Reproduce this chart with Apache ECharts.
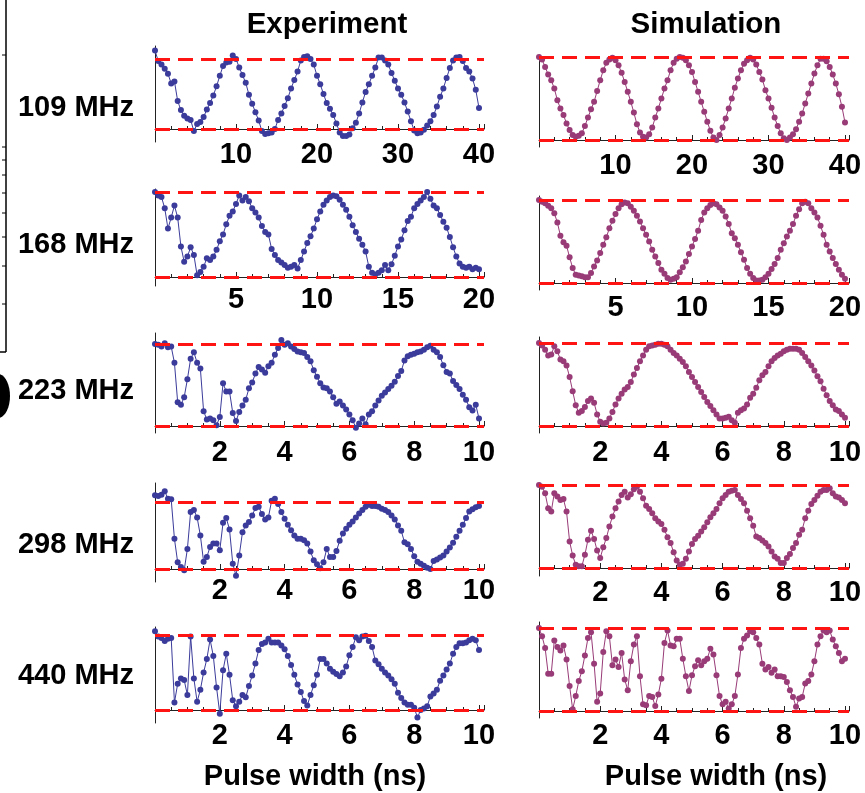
<!DOCTYPE html>
<html>
<head>
<meta charset="utf-8">
<script src="https://cdn.jsdelivr.net/npm/echarts@6/dist/echarts.min.js"></script>
<style>
  html, body { margin: 0; padding: 0; background: #ffffff; }
  #chart { width: 865px; height: 793px; }
</style>
</head>
<body>
<div id="chart"></div>
<script>
// Rabi oscillations: excited-state population vs. pulse width (ns)
// Measured ("Experiment") and simulated ("Simulation") traces for five drive frequencies.

const frequencies = ['109 MHz', '168 MHz', '223 MHz', '298 MHz', '440 MHz'];
const columnTitles = ['Experiment', 'Simulation'];
const xAxisName = 'Pulse width (ns)';

// sample spacing (ns) of each row
const rowSteps = [0.4, 0.2, 0.1, 0.1, 0.1];
// full pulse-width span and labelled tick interval of each row
const rowSpans = [40, 20, 10, 10, 10];
const rowTickIntervals = [10, 5, 2, 2, 2];
const rowMinorSplits = [5, 5, 4, 4, 4];

// ---- 109 MHz ----
const exp109 = [1.12,0.97,0.92,0.86,0.79,0.65,0.68,0.40,0.27,0.19,0.15,0.13,-0.03,0.07,0.10,0.17,0.28,0.37,0.48,0.61,
  0.76,0.90,0.95,0.96,1.05,1.00,0.88,0.77,0.66,0.49,0.36,0.24,0.12,-0.03,-0.07,-0.06,-0.05,0.00,0.13,0.22,
  0.33,0.44,0.58,0.70,0.82,0.98,1.03,1.04,1.00,0.92,0.76,0.64,0.50,0.37,0.29,0.20,0.08,-0.05,-0.10,-0.10,
  -0.08,0.01,0.09,0.22,0.38,0.53,0.64,0.76,0.88,1.02,1.02,0.98,0.92,0.80,0.69,0.58,0.49,0.38,0.25,0.11,
  -0.02,-0.06,-0.05,-0.01,0.05,0.11,0.20,0.32,0.46,0.58,0.73,0.87,0.98,1.02,1.03,0.97,0.87,0.82,0.72,0.56,0.30];
const sim109 = [1.00,0.97,0.88,0.79,0.72,0.62,0.48,0.38,0.30,0.20,0.12,0.06,0.04,0.05,0.08,0.17,0.27,0.37,0.46,0.59,
  0.72,0.84,0.93,0.97,0.99,0.96,0.90,0.81,0.70,0.58,0.46,0.33,0.19,0.09,0.04,0.03,0.07,0.15,0.27,0.38,
  0.50,0.62,0.72,0.84,0.93,0.98,1.00,0.99,0.96,0.90,0.82,0.70,0.58,0.46,0.34,0.22,0.11,0.03,0.00,0.06,
  0.15,0.26,0.38,0.50,0.63,0.74,0.84,0.92,0.96,0.99,0.97,0.91,0.82,0.73,0.60,0.50,0.39,0.27,0.17,0.08,
  0.02,0.00,0.03,0.07,0.13,0.22,0.32,0.44,0.56,0.68,0.80,0.90,0.98,0.98,0.95,0.88,0.79,0.68,0.55,0.40,0.21];

// ---- 168 MHz ----
const exp168 = [1.00,0.96,0.94,0.81,0.57,0.70,0.84,0.70,0.36,0.18,0.24,0.35,0.26,0.02,0.06,0.12,0.22,0.20,0.24,0.32,
  0.42,0.50,0.62,0.72,0.77,0.86,0.96,0.90,0.94,0.89,0.81,0.76,0.70,0.60,0.53,0.50,0.33,0.26,0.20,0.17,
  0.14,0.11,0.12,0.14,0.10,0.20,0.30,0.40,0.48,0.57,0.68,0.77,0.85,0.90,0.94,0.96,0.95,0.91,0.85,0.79,
  0.71,0.61,0.53,0.45,0.38,0.30,0.12,0.05,0.03,0.05,0.08,0.14,0.08,0.15,0.25,0.36,0.44,0.55,0.66,0.71,
  0.81,0.86,0.90,0.94,1.00,0.92,0.84,0.81,0.73,0.65,0.58,0.47,0.35,0.24,0.16,0.12,0.11,0.12,0.09,0.11,0.09];
const sim168 = [1.00,0.98,0.96,0.93,0.90,0.84,0.73,0.57,0.49,0.45,0.31,0.18,0.10,0.09,0.08,0.07,0.07,0.12,0.20,0.27,
  0.36,0.46,0.55,0.66,0.75,0.83,0.90,0.95,0.97,0.96,0.92,0.87,0.81,0.74,0.66,0.58,0.50,0.40,0.32,0.24,
  0.16,0.11,0.06,0.04,0.05,0.07,0.13,0.19,0.26,0.35,0.44,0.53,0.63,0.76,0.85,0.90,0.94,0.96,0.95,0.91,
  0.87,0.80,0.71,0.60,0.54,0.46,0.37,0.28,0.18,0.11,0.06,0.03,0.03,0.04,0.07,0.11,0.17,0.23,0.30,0.40,
  0.48,0.56,0.63,0.71,0.81,0.89,0.96,0.98,0.96,0.90,0.85,0.79,0.69,0.58,0.46,0.38,0.30,0.23,0.16,0.10,0.05];

// ---- 223 MHz ----
const exp223 = [1.00,0.99,0.97,1.01,0.96,0.97,0.77,0.29,0.26,0.35,0.57,0.82,0.90,0.77,0.70,0.18,0.08,0.09,0.07,0.01,
  0.11,0.52,0.42,0.42,0.16,0.06,0.17,0.25,0.32,0.46,0.53,0.64,0.72,0.69,0.65,0.73,0.77,0.87,0.95,1.05,
  0.99,1.01,0.97,0.94,0.91,0.90,0.89,0.84,0.79,0.68,0.60,0.52,0.47,0.46,0.42,0.35,0.27,0.30,0.25,0.20,
  0.14,0.07,-0.02,0.03,0.09,0.02,0.14,0.18,0.25,0.31,0.37,0.41,0.45,0.49,0.54,0.61,0.67,0.80,0.85,0.87,
  0.88,0.90,0.91,0.93,0.96,0.98,0.93,0.90,0.84,0.74,0.66,0.64,0.55,0.50,0.45,0.38,0.32,0.23,0.19,0.26,0.09];
const sim223 = [1.00,0.97,0.92,0.85,0.86,0.96,0.90,0.80,0.78,0.73,0.59,0.42,0.25,0.16,0.18,0.23,0.30,0.33,0.28,0.14,
  0.05,0.03,0.04,0.09,0.17,0.26,0.33,0.39,0.44,0.47,0.53,0.62,0.70,0.78,0.85,0.92,0.96,0.97,0.98,0.99,
  0.99,0.98,0.96,0.92,0.88,0.85,0.81,0.77,0.72,0.65,0.59,0.53,0.47,0.41,0.35,0.29,0.24,0.19,0.14,0.09,
  0.09,0.10,0.11,0.07,0.04,0.16,0.19,0.21,0.26,0.34,0.39,0.46,0.55,0.61,0.65,0.72,0.78,0.82,0.85,0.87,
  0.90,0.92,0.93,0.93,0.93,0.92,0.88,0.83,0.78,0.73,0.67,0.60,0.54,0.45,0.37,0.30,0.25,0.20,0.18,0.14,0.10];

// ---- 298 MHz ----
const exp298 = [1.10,1.09,1.11,1.16,1.05,1.04,0.45,0.10,0.03,-0.02,0.30,0.85,0.88,0.77,0.50,0.11,0.18,0.33,0.38,0.38,
  0.28,0.69,0.76,0.59,0.08,-0.10,0.20,0.55,0.65,0.70,0.80,0.91,0.93,0.82,0.74,0.77,1.02,1.05,0.97,0.85,
  0.75,0.66,0.58,0.50,0.45,0.45,0.43,0.38,0.26,0.13,0.07,0.01,0.10,0.30,0.18,0.18,0.27,0.42,0.53,0.60,
  0.66,0.71,0.77,0.83,0.88,0.93,0.96,0.94,0.94,0.93,0.90,0.88,0.85,0.80,0.74,0.65,0.57,0.40,0.37,0.30,
  0.19,0.11,0.08,0.05,0.02,0.00,0.12,0.14,0.17,0.20,0.26,0.32,0.39,0.48,0.57,0.66,0.76,0.86,0.89,0.92,0.94];
const sim298 = [1.00,0.98,0.90,0.72,0.68,0.90,0.86,0.82,0.83,0.68,0.32,0.15,0.04,0.02,0.02,0.16,0.34,0.45,0.35,0.21,
  0.12,0.25,0.36,0.50,0.62,0.72,0.80,0.88,0.92,0.85,0.89,0.95,0.98,0.92,0.84,0.75,0.71,0.66,0.60,0.56,
  0.53,0.46,0.37,0.30,0.19,0.09,0.04,0.05,0.11,0.20,0.29,0.35,0.39,0.44,0.49,0.55,0.61,0.66,0.71,0.78,
  0.84,0.88,0.92,0.93,0.94,0.88,0.83,0.78,0.69,0.60,0.51,0.38,0.36,0.33,0.30,0.26,0.20,0.14,0.11,0.06,
  0.06,0.12,0.17,0.24,0.30,0.40,0.46,0.60,0.69,0.77,0.82,0.87,0.92,0.94,0.94,0.96,0.90,0.86,0.85,0.82,0.78];

// ---- 440 MHz ----
const exp440 = [1.05,0.98,0.96,0.92,0.95,0.96,0.10,0.35,0.42,0.40,0.20,0.98,0.42,0.11,0.27,0.50,0.68,0.94,0.72,0.30,
  -0.05,0.53,0.75,0.47,0.13,0.05,0.11,0.20,0.17,0.32,0.46,0.62,0.80,0.88,0.90,0.95,0.90,0.90,0.90,0.86,
  0.81,0.72,0.60,0.47,0.34,0.24,0.12,0.06,0.20,0.33,0.47,0.68,0.68,0.62,0.55,0.51,0.48,0.45,0.50,0.58,
  0.73,0.84,0.97,0.93,0.98,0.99,0.92,0.84,0.66,0.61,0.55,0.50,0.46,0.41,0.35,0.23,0.16,0.10,0.07,0.07,
  0.03,-0.10,0.00,0.02,0.05,0.18,0.22,0.27,0.39,0.46,0.54,0.62,0.75,0.84,0.89,0.89,0.90,0.93,0.95,0.93,0.80];
const sim440 = [1.00,0.90,0.76,0.45,0.45,0.85,0.77,0.73,0.79,0.62,0.30,0.02,0.18,0.36,0.48,0.67,0.88,0.95,0.57,0.11,
  0.21,0.71,0.96,0.90,0.55,0.62,0.53,0.70,0.38,0.25,0.60,0.80,0.90,0.42,0.08,0.07,0.18,0.17,0.06,0.20,
  0.39,0.82,0.97,0.79,0.78,0.87,0.87,0.63,0.42,0.24,0.43,0.54,0.61,0.55,0.60,0.63,0.75,0.68,0.43,0.18,
  0.08,0.11,0.03,0.08,0.18,0.44,0.76,0.87,0.91,0.96,0.95,0.88,0.80,0.57,0.50,0.53,0.46,0.50,0.42,0.42,
  0.41,0.35,0.25,0.17,0.05,0.15,0.17,0.33,0.36,0.44,0.60,0.80,0.90,0.97,0.95,0.97,0.86,0.78,0.70,0.60,0.63];

const experimentRows = [exp109, exp168, exp223, exp298, exp440];
const simulationRows = [sim109, sim168, sim223, sim298, sim440];

// ---------- layout (pixels) ----------
const COLORS = { experiment: '#3b3b9b', simulation: '#983b77', guide: '#ff1414', axis: '#222222' };
const FONT = '"Liberation Sans", Arial, sans-serif';

// column geometry: pixel of x = 0, pixel of the span end, pixel where the axis line ends
const columns = [
  { x0: 155, xEnd: 479, axisEnd: 484 },
  { x0: 539, xEnd: 845, axisEnd: 849 }
];
// per panel vertical geometry: pixel of y=1, y=0, axis top, axis bottom, tick-label centre
const rowsGeom = [
  [{ y1: 59,  y0: 129, top: 46,  bottom: 142, label: 153 }, { y1: 57,  y0: 140, top: 55,  bottom: 147, label: 164 }],
  [{ y1: 192, y0: 277, top: 189, bottom: 286, label: 298 }, { y1: 200, y0: 283, top: 196, bottom: 290, label: 306 }],
  [{ y1: 344, y0: 426, top: 333, bottom: 433, label: 451 }, { y1: 343, y0: 426, top: 337, bottom: 433, label: 451 }],
  [{ y1: 502, y0: 569, top: 483, bottom: 582, label: 589 }, { y1: 485, y0: 568, top: 483, bottom: 576, label: 591 }],
  [{ y1: 635, y0: 710, top: 627, bottom: 723, label: 734 }, { y1: 628, y0: 711, top: 622, bottom: 718, label: 734 }]
];
const rowLabelY = [108, 245, 391, 545, 676];

const grids = [], xAxes = [], yAxes = [], series = [];

function addPanel(row, col, values, color) {
  const c = columns[col];
  const g = rowsGeom[row][col];
  const span = rowSpans[row];
  const ppu = (c.xEnd - c.x0) / span;
  const xMax = (c.axisEnd - c.x0) / ppu;
  const unit = g.y0 - g.y1;
  const yMax = 1 + (g.y1 - g.top) / unit;
  const yMin = -(g.bottom - g.y0) / unit;
  const idx = grids.length;
  const interval = rowTickIntervals[row];

  grids.push({ left: c.x0, top: g.top, width: c.axisEnd - c.x0, height: g.bottom - g.top, containLabel: false });
  xAxes.push({
    type: 'value', gridIndex: idx, min: 0, max: xMax, interval: interval,
    axisLine: { onZero: true, lineStyle: { color: COLORS.axis, width: 1 } },
    axisTick: { show: true, inside: true, length: 5, lineStyle: { color: COLORS.axis, width: 1 } },
    minorTick: { show: true, splitNumber: rowMinorSplits[row], length: 3, lineStyle: { color: COLORS.axis, width: 1 } },
    splitLine: { show: false },
    axisLabel: {
      show: true, margin: g.label - g.bottom - 13, color: '#000', fontFamily: FONT, fontWeight: 'bold', fontSize: 29,
      showMaxLabel: false,
      formatter: v => {
        const k = v / interval;
        return (v > 0 && Math.abs(k - Math.round(k)) < 1e-6 && v <= span + 1e-6) ? String(v) : '';
      }
    }
  });
  yAxes.push({
    type: 'value', gridIndex: idx, min: yMin, max: yMax,
    axisLine: { show: true, onZero: true, lineStyle: { color: COLORS.axis, width: 1 } },
    axisTick: { show: false }, axisLabel: { show: false }, splitLine: { show: false }
  });

  const step = rowSteps[row];
  series.push({
    type: 'line', xAxisIndex: idx, yAxisIndex: idx,
    data: values.map((y, i) => [Math.round(i * step * 100) / 100, y]),
    symbol: 'circle', symbolSize: 6, showSymbol: true,
    itemStyle: { color: color },
    lineStyle: { color: color, width: 1 },
    silent: true, animation: false, z: 3,
    markLine: {
      silent: true, symbol: 'none', animation: false,
      label: { show: false },
      lineStyle: { color: COLORS.guide, width: 3, type: [15, 8], opacity: 1 },
      data: [{ yAxis: 1 }, { yAxis: 0 }]
    }
  });
}

for (let r = 0; r < 5; r++) {
  addPanel(r, 0, experimentRows[r], COLORS.experiment);
  addPanel(r, 1, simulationRows[r], COLORS.simulation);
}

const textStyle = (text, x, y, size, align) => ({
  type: 'text', x: x, y: y, silent: true,
  style: { text: text, fill: '#000', font: 'bold ' + size + 'px ' + FONT, textAlign: align || 'center', textVerticalAlign: 'middle' }
});

const graphics = [
  textStyle(columnTitles[0], 327, 25, 29.5),
  textStyle(columnTitles[1], 706, 25, 29.5),
  textStyle(xAxisName, 315, 777, 29),
  textStyle(xAxisName, 716, 777, 29)
];
frequencies.forEach((f, i) => graphics.push(textStyle(f, 134, rowLabelY[i], 29, 'right')));

// edge of the neighbouring panel at the far left
graphics.push({ type: 'line', silent: true, shape: { x1: 6, y1: 0, x2: 6, y2: 352 }, style: { stroke: '#000', lineWidth: 1.5 } });
graphics.push({ type: 'line', silent: true, shape: { x1: 0, y1: 352, x2: 6, y2: 352 }, style: { stroke: '#000', lineWidth: 1.5 } });
[55, 147, 160, 175, 193, 213, 237, 266, 304].forEach(ty => {
  graphics.push({ type: 'line', silent: true, shape: { x1: 2, y1: ty, x2: 6, y2: ty }, style: { stroke: '#000', lineWidth: 1 } });
});
graphics.push({ type: 'ellipse', silent: true, shape: { cx: -2, cy: 396, rx: 12, ry: 22 }, style: { fill: '#000' } });

const chart = echarts.init(document.getElementById('chart'), null, { renderer: 'canvas' });
chart.setOption({
  backgroundColor: '#ffffff',
  animation: false,
  grid: grids,
  xAxis: xAxes,
  yAxis: yAxes,
  series: series,
  graphic: graphics
});
</script>
</body>
</html>
